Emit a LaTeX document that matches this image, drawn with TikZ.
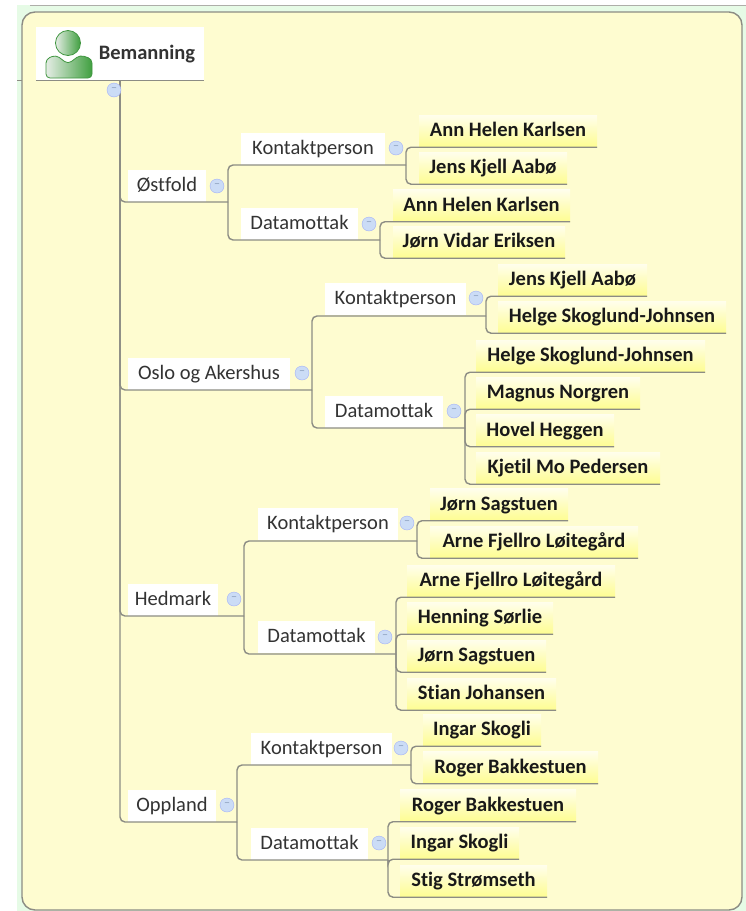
\documentclass[tikz,border=0pt]{standalone}
\usepackage{fontspec}
\setmainfont[Ligatures=NoCommon]{Carlito}
\definecolor{panelfill}{HTML}{FEFCD0}
\definecolor{pagegreen}{HTML}{E6FBE6}
\definecolor{linegrey}{HTML}{8C8C84}
\definecolor{minusfill}{HTML}{CBDCF6}
\definecolor{minusink}{HTML}{8CA0BE}
\tikzset{
  box/.style={inner xsep=0pt,inner ysep=8pt,text height=13.5pt,text depth=2.5pt,font=\fontsize{20.5}{24}\selectfont},
  topic/.style={box,fill=white,text=black!80},
  leaf/.style={box,top color=panelfill!40!white,bottom color=yellow!30!panelfill,text=black!90,font=\fontsize{20.5}{24}\selectfont\bfseries},
  branch/.style={draw=linegrey,line width=1.4pt,rounded corners=5pt,to path={|- (\tikztotarget)}},
  rule/.style={draw=linegrey,line width=1.4pt},
  minus/.style={circle,fill=minusfill,draw=minusfill!80!blue,line width=.4pt,minimum size=14pt,inner sep=0pt,text=minusink,font=\fontsize{12}{12}\selectfont},
}
\begin{document}
\begin{tikzpicture}[x=1pt,y=-1pt]
  \useasboundingbox (0,0) rectangle (746,911);
  % page and panel
  \fill[pagegreen] (17,5) rectangle (746,911);
  \draw[linegrey!70,line width=1pt] (30,5) -- (746,5);
  \draw[linegrey,line width=1pt] (17,80) -- (22,80);
  \draw[rule,fill=panelfill,rounded corners=13pt] (22,12) rectangle (742,910);
  % root
  \node[topic,minimum width=168pt,minimum height=53pt,font=\fontsize{20.5}{24}\selectfont\bfseries] at (120,53.5) (root) {\hspace*{54pt}Bemanning};
  \draw[draw=green!45!black!75,line width=.8pt,left color=green!30!black!10!white,right color=green!50!black!75] (68,43) circle (12.5);
  \draw[draw=green!45!black!75,line width=.8pt,left color=green!30!black!10!white,right color=green!50!black!75,rounded corners=4pt] (46,78) -- (46,59) -- (56,55) -- (68,64) -- (80,55) -- (92,59) -- (92,78) -- cycle;
  % topics
  \node[topic,minimum width=78pt] at (167,186) (ostfold) {Østfold};
  \node[topic,minimum width=162pt] at (209,373.5) (oslo) {Oslo og Akershus};
  \node[topic,minimum width=90pt] at (173,599.5) (hedmark) {Hedmark};
  \node[topic,minimum width=88pt] at (172,806) (oppland) {Oppland};
  % ostfold
  \node[topic,minimum width=144pt] at (313,148.5) (kontakta) {Kontaktperson};
  \node[topic,minimum width=117pt] at (299.5,223.5) (datab) {Datamottak};
  \node[leaf,minimum width=178pt] at (508,131) (annk) {Ann Helen Karlsen};
  \node[leaf,minimum width=148pt] at (493,168) (jensa) {Jens Kjell Aabø};
  \node[leaf,minimum width=177pt] at (481.5,205.5) (annd) {Ann Helen Karlsen};
  \node[leaf,minimum width=172pt] at (479,242) (jorne) {Jørn Vidar Eriksen};
  % oslo
  \node[topic,minimum width=141pt] at (395.5,299) (kontaktb) {Kontaktperson};
  \node[topic,minimum width=118pt] at (384,411.5) (datac) {Datamottak};
  \node[leaf,minimum width=149pt] at (572.5,280) (jensb) {Jens Kjell Aabø};
  \node[leaf,minimum width=228pt] at (612,317) (helgek) {Helge Skoglund-Johnsen};
  \node[leaf,minimum width=229pt] at (590.5,356) (helged) {Helge Skoglund-Johnsen};
  \node[leaf,minimum width=164pt] at (558,393) (magnus) {Magnus Norgren};
  \node[leaf,minimum width=138pt] at (545,430.5) (hovel) {Hovel Heggen};
  \node[leaf,minimum width=184pt] at (568,468) (kjetil) {Kjetil Mo Pedersen};
  % hedmark
  \node[topic,minimum width=140pt] at (328,524) (kontaktc) {Kontaktperson};
  \node[topic,minimum width=117pt] at (316.5,637) (datad) {Datamottak};
  \node[leaf,minimum width=138pt] at (499,504.5) (jornk) {Jørn Sagstuen};
  \node[leaf,minimum width=208pt] at (534,542) (arnek) {Arne Fjellro Løitegård};
  \node[leaf,minimum width=208pt] at (511,581) (arned) {Arne Fjellro Løitegård};
  \node[leaf,minimum width=146pt] at (480,618) (henning) {Henning Sørlie};
  \node[leaf,minimum width=139pt] at (476.5,656) (jornd) {Jørn Sagstuen};
  \node[leaf,minimum width=149pt] at (481.5,694) (stian) {Stian Johansen};
  % oppland
  \node[topic,minimum width=141pt] at (321.5,748.5) (kontaktd) {Kontaktperson};
  \node[topic,minimum width=117pt] at (309.5,843.5) (datae) {Datamottak};
  \node[leaf,minimum width=118pt] at (482,730) (ingark) {Ingar Skogli};
  \node[leaf,minimum width=175pt] at (510.5,767.5) (rogerk) {Roger Bakkestuen};
  \node[leaf,minimum width=176pt] at (488,805.5) (rogerd) {Roger Bakkestuen};
  \node[leaf,minimum width=119pt] at (459.5,843) (ingard) {Ingar Skogli};
  \node[leaf,minimum width=147pt] at (473.5,881) (stig) {Stig Strømseth};
  % junctions
  \coordinate (osj) at (228,202);
  \coordinate (olj) at (312,390);
  \coordinate (hej) at (244,616);
  \coordinate (opj) at (237,822);
  \coordinate (j1) at (406,165);
  \coordinate (j2) at (380,240);
  \coordinate (j3) at (486,316);
  \coordinate (j4) at (465,428);
  \coordinate (j5) at (417,541);
  \coordinate (j6) at (396,654);
  \coordinate (j7) at (411,765);
  \coordinate (j8) at (388,860);
  % connectors
  \path[rule] (root.south west) edge[rule] (root.south east);
  \path[] (root.south) edge[branch] (osj);
  \path[] (root.south) edge[branch] (olj);
  \path[] (root.south) edge[branch] (hej);
  \path[] (root.south) edge[branch] (opj);
  \path[] (osj) edge[branch] (j1);
  \path[] (osj) edge[branch] (j2);
  \path[] (olj) edge[branch] (j3);
  \path[] (olj) edge[branch] (j4);
  \path[] (hej) edge[branch] (j5);
  \path[] (hej) edge[branch] (j6);
  \path[] (opj) edge[branch] (j7);
  \path[] (opj) edge[branch] (j8);
  \path[] (j1) edge[branch] (annk.south east);
  \path[] (j1) edge[branch] (jensa.south east);
  \path[] (j2) edge[branch] (annd.south east);
  \path[] (j2) edge[branch] (jorne.south east);
  \path[] (j3) edge[branch] (jensb.south east);
  \path[] (j3) edge[branch] (helgek.south east);
  \path[] (j4) edge[branch] (helged.south east);
  \path[] (j4) edge[branch] (magnus.south east);
  \path[] (j4) edge[branch] (hovel.south east);
  \path[] (j4) edge[branch] (kjetil.south east);
  \path[] (j5) edge[branch] (jornk.south east);
  \path[] (j5) edge[branch] (arnek.south east);
  \path[] (j6) edge[branch] (arned.south east);
  \path[] (j6) edge[branch] (henning.south east);
  \path[] (j6) edge[branch] (jornd.south east);
  \path[] (j6) edge[branch] (stian.south east);
  \path[] (j7) edge[branch] (ingark.south east);
  \path[] (j7) edge[branch] (rogerk.south east);
  \path[] (j8) edge[branch] (rogerd.south east);
  \path[] (j8) edge[branch] (ingard.south east);
  \path[] (j8) edge[branch] (stig.south east);
  % collapse buttons
  \node[minus] at (114,90) (m0) {--};
  \node[minus] at (217,186) (m1) {--};
  \node[minus] at (302,373) (m2) {--};
  \node[minus] at (234,599) (m3) {--};
  \node[minus] at (227,805) (m4) {--};
  \node[minus] at (396,148) (m5) {--};
  \node[minus] at (369,224) (m6) {--};
  \node[minus] at (476,298) (m7) {--};
  \node[minus] at (454,411) (m8) {--};
  \node[minus] at (407,523) (m9) {--};
  \node[minus] at (385,637) (m10) {--};
  \node[minus] at (401,748) (m11) {--};
  \node[minus] at (379,843) (m12) {--};
\end{tikzpicture}
\end{document}
